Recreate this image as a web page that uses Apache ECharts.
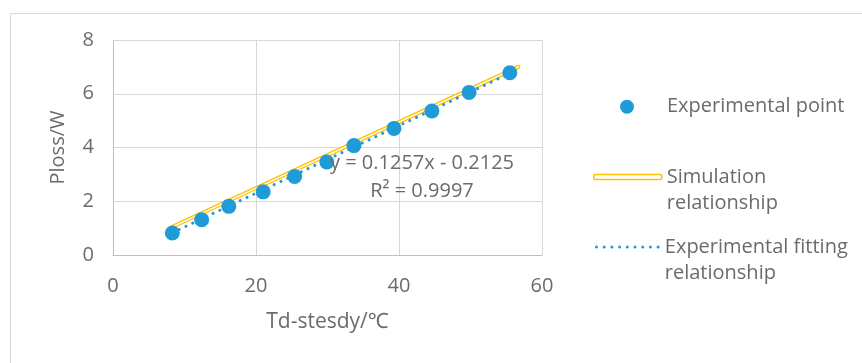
<!DOCTYPE html>
<html>
<head>
<meta charset="utf-8">
<script src="https://cdn.jsdelivr.net/npm/echarts@6/dist/echarts.min.js"></script>
<style>
  html, body { margin: 0; padding: 0; background: #fff; }
  #chart { width: 862px; height: 363px; }
</style>
</head>
<body>
<div id="chart"></div>
<script>
// values
const pointX = [8.3, 12.4, 16.2, 21.0, 25.4, 29.9, 33.7, 39.3, 44.6, 49.8, 55.5];
const pointY = [0.82, 1.31, 1.81, 2.35, 2.92, 3.46, 4.07, 4.71, 5.36, 6.05, 6.78];
const simX = [8.3, 56.7];
const simY = [1.05, 7.0];
const fitX = [8.3, 55.5];
const fitY = [0.83, 6.76];
const xTicks = [0, 20, 40, 60];
const yTicks = [0, 2, 4, 6, 8];
const names = ["Experimental point", "Simulation relationship", "Experimental fitting relationship"];
// leading empty line keeps the first text line level with the legend icon
const legendText = ["Experimental point", "\nSimulation\nrelationship", "\nExperimental fitting\nrelationship"];
const equationText = "y = 0.1257x - 0.2125\nR² = 0.9997";

const blue = "#1F9BD7";
const yellow = "#FFC000";
const textColor = "#6b6b6b";
const font = "'Open Sans', 'Noto Sans', 'Noto Sans CJK SC', sans-serif";
const fontSize = 20;

const zip = (xs, ys) => xs.map((x, i) => [x, ys[i]]);

const dotIcon =
  "path://" +
  Array.from({ length: 9 }, (_, i) => `M${i * 7.7} 1.5a1.5 1.5 0 1 0 3 0a1.5 1.5 0 1 0 -3 0z`).join("");

const legendTextStyle = {
  color: textColor,
  fontSize: fontSize,
  fontFamily: font,
  lineHeight: 26,
};

const chart = echarts.init(document.getElementById("chart"));

const option = {
  animation: false,
  grid: { left: 113, right: 320, top: 40, bottom: 108 },
  graphic: [
    {
      type: "rect",
      silent: true,
      z: -10,
      shape: { x: 10.5, y: 13.5, width: 900, height: 400 },
      style: { fill: null, stroke: "#D9D9D9", lineWidth: 1 },
    },
    {
      type: "text",
      x: 422,
      y: 177,
      z: 20,
      style: {
        text: equationText,
        fill: textColor,
        fontSize: fontSize,
        fontFamily: font,
        lineHeight: 28,
        align: "center",
        verticalAlign: "middle",
      },
    },
  ],
  legend: [
    {
      left: 620,
      top: 93.7,
      padding: 0,
      selectedMode: false,
      itemWidth: 14,
      itemHeight: 14,
      data: [{ name: names[0], icon: "circle" }],
      formatter: () => legendText[0],
      textStyle: { ...legendTextStyle, padding: [0, 0, 0, 28] },
    },
    {
      left: 593,
      top: 138,
      padding: 0,
      selectedMode: false,
      itemWidth: 68,
      itemHeight: 5,
      data: [
        {
          name: names[1],
          icon: "roundRect",
          itemStyle: { color: "#fff", borderColor: yellow, borderWidth: 1.5 },
        },
      ],
      formatter: () => legendText[1],
      textStyle: legendTextStyle,
    },
    {
      left: 595,
      top: 208,
      padding: 0,
      selectedMode: false,
      itemWidth: 65,
      itemHeight: 3,
      data: [{ name: names[2], icon: dotIcon, itemStyle: { color: blue } }],
      formatter: () => legendText[2],
      textStyle: legendTextStyle,
    },
  ],
  xAxis: {
    type: "value",
    min: xTicks[0],
    max: xTicks[xTicks.length - 1],
    interval: xTicks[1] - xTicks[0],
    name: "Td-stesdy/℃",
    nameLocation: "middle",
    nameGap: 57,
    nameTextStyle: { color: textColor, fontSize: 21, fontFamily: font },
    axisLine: { show: true, onZero: false, lineStyle: { color: "#BFBFBF", width: 1 } },
    axisTick: { show: false },
    axisLabel: { color: textColor, fontSize: fontSize, fontFamily: font, margin: 21 },
    splitLine: { show: true, lineStyle: { color: "#D9D9D9", width: 1 } },
  },
  yAxis: {
    type: "value",
    min: yTicks[0],
    max: yTicks[yTicks.length - 1],
    interval: yTicks[1] - yTicks[0],
    name: "Ploss/W",
    nameLocation: "middle",
    nameGap: 45,
    nameTextStyle: { color: textColor, fontSize: fontSize, fontFamily: font },
    axisLine: { show: true, onZero: false, lineStyle: { color: "#BFBFBF", width: 1 } },
    axisTick: { show: false },
    axisLabel: { color: textColor, fontSize: fontSize, fontFamily: font, margin: 19 },
    splitLine: { show: true, lineStyle: { color: "#D9D9D9", width: 1 } },
  },
  series: [
    {
      name: names[1],
      type: "line",
      data: zip(simX, simY),
      symbol: "none",
      silent: true,
      z: 2,
      itemStyle: { color: yellow },
      lineStyle: { color: yellow, width: 4, cap: "round" },
    },
    {
      name: "simulation-inner",
      type: "line",
      data: zip(simX, simY),
      symbol: "none",
      silent: true,
      z: 3,
      itemStyle: { color: "#fff" },
      lineStyle: { color: "#fff", width: 1.4, cap: "round" },
    },
    {
      name: names[2],
      type: "line",
      data: zip(fitX, fitY),
      symbol: "none",
      silent: true,
      z: 4,
      itemStyle: { color: blue },
      lineStyle: { color: blue, width: 3, type: [0.1, 7.4], cap: "round" },
    },
    {
      name: names[0],
      type: "scatter",
      data: zip(pointX, pointY),
      symbol: "circle",
      symbolSize: 15,
      z: 5,
      itemStyle: { color: blue, opacity: 1 },
    },
  ],
};

chart.setOption(option);
</script>
</body>
</html>
